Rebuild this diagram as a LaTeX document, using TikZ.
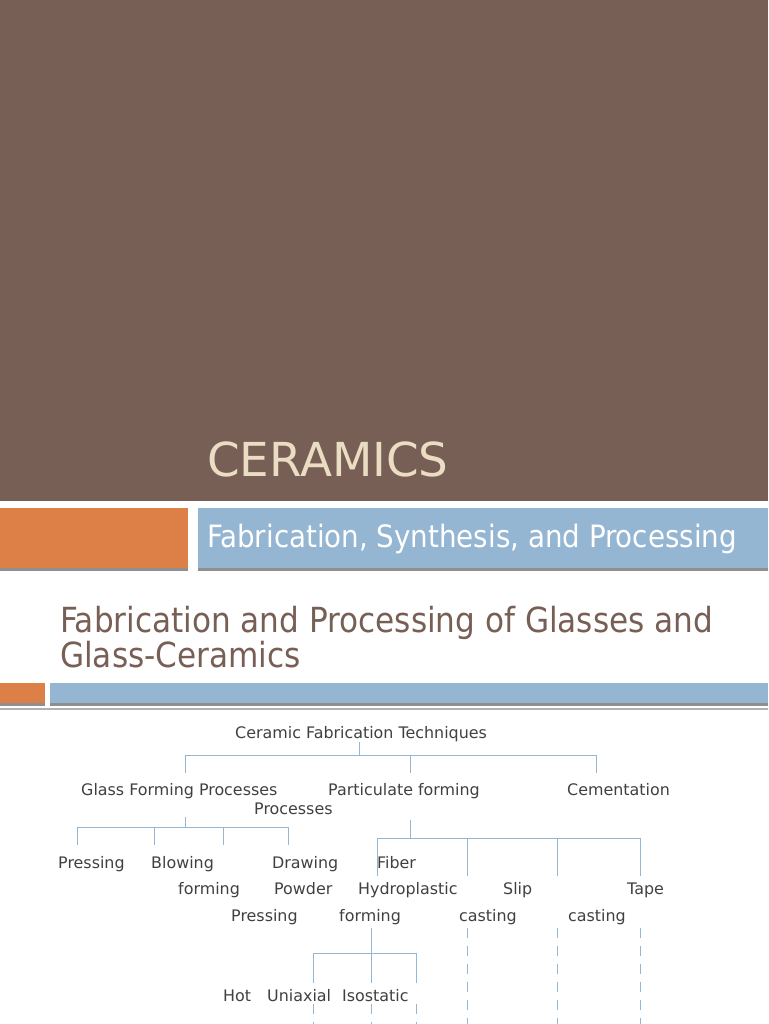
\documentclass[tikz,border=0pt]{standalone}
\usepackage{fontspec}
\setmainfont{DejaVu Sans}
\newfontfamily\condfont{DejaVu Sans Condensed}
\definecolor{slidebrown}{HTML}{775F55}
\definecolor{slideorange}{HTML}{DD8047}
\definecolor{slideblue}{HTML}{94B6D2}
\definecolor{slidecream}{HTML}{EBDDC3}
\definecolor{slideshadow}{HTML}{8F8F8F}
\definecolor{treetext}{HTML}{404040}
\tikzset{
  lbl/.style={anchor=base west, inner sep=0pt, text=treetext,
    font=\fontsize{15.9}{18}\selectfont},
  link/.style={draw=slideblue, line width=0.9pt},
  dlink/.style={link, dash pattern=on 10pt off 8pt},
}
\begin{document}
\begin{tikzpicture}[x=1pt, y=-1pt] %{,}
\useasboundingbox (0,0) rectangle (768,1024);
\fill[slidebrown] (0,0) rectangle (768,501);
\fill[slideshadow] (0,508) rectangle (188,571);
\fill[slideorange] (0,508) rectangle (188,568);
\fill[slideshadow] (198,508) rectangle (768,571);
\fill[slideblue] (198,508) rectangle (768,568);
\fill[slideshadow] (0,683) rectangle (45,706);
\fill[slideorange] (0,683) rectangle (45,703);
\fill[slideshadow] (50,683) rectangle (768,706);
\fill[slideblue] (50,683) rectangle (768,703);
\fill[slideshadow!70] (0,707.5) rectangle (768,709.5);
\node[anchor=base west, inner sep=0pt, text=slidecream, font=\fontsize{46.8}{50}\selectfont] (T_0) at (207,476) {CERAMICS};
\node[anchor=base west, inner sep=0pt, text=white, font=\condfont\fontsize{30.8}{32}\selectfont] (T_1) at (207,547) {Fabrication, Synthesis, and Processing};
\node[anchor=base west, inner sep=0pt, align=left, text=slidebrown, font=\condfont\fontsize{34.6}{35}\selectfont] (T_2) at (60,667) {Fabrication and Processing of Glasses and\\Glass-Ceramics};
\node[lbl] (P_0_0) at (235,738) {Ceramic Fabrication Techniques};
\node[lbl] (P_1_0) at (81,795) {Glass Forming Processes};
\node[lbl] (P_1_1) at (328,795) {Particulate forming};
\node[lbl] (P_1_2) at (254,814) {Processes};
\node[lbl] (P_1_3) at (567,795) {Cementation};
\coordinate (B_0) at (359,755);
\coordinate (B_0_0) at (185,755);
\coordinate (B_0_1) at (410,755);
\coordinate (B_0_2) at (596,755);
\draw[link] (P_0_0.south -| B_0) -- (B_0);
\draw[link] (B_0_0) -- (B_0_2);
\foreach \c in {0,1,2} \draw[link] (B_0_\c) -- ++(0,18);
\node[lbl] (P_2_0) at (58,868) {Pressing};
\node[lbl] (P_2_1) at (151,868) {Blowing};
\node[lbl] (P_2_2) at (272,868) {Drawing};
\node[lbl] (P_2_3) at (377,868) {Fiber};
\node[lbl] (P_3_0) at (178,894) {forming};
\node[lbl] (P_3_1) at (274,894) {Powder};
\node[lbl] (P_3_2) at (358,894) {Hydroplastic};
\node[lbl] (P_3_3) at (503,894) {Slip};
\node[lbl] (P_3_4) at (627,894) {Tape};
\node[lbl] (P_4_0) at (231,921) {Pressing};
\node[lbl] (P_4_1) at (339,921) {forming};
\node[lbl] (P_4_2) at (459,921) {casting};
\node[lbl] (P_4_3) at (568,921) {casting};
\coordinate (B_1) at (185,827);
\coordinate (B_1_0) at (77,827);
\coordinate (B_1_1) at (154,827);
\coordinate (B_1_2) at (223,827);
\coordinate (B_1_3) at (288,827);
\draw[link] (B_1) -- ++(0,-10);
\draw[link] (B_1_0) -- (B_1_3);
\foreach \c in {0,...,3} \draw[link] (B_1_\c) -- ++(0,18);
\coordinate (B_2) at (410,838);
\coordinate (B_2_0) at (377,838);
\coordinate (B_2_1) at (467,838);
\coordinate (B_2_2) at (557,838);
\coordinate (B_2_3) at (640,838);
\draw[link] (B_2) -- ++(0,-18);
\draw[link] (B_2_0) -- (B_2_3);
\foreach \c in {0,...,3} \draw[link] (B_2_\c) -- ++(0,38);
\foreach \c in {1,2,3} \draw[dlink] (B_2_\c |- P_4_1.south) ++(0,3) -- (B_2_\c |- 0,1024);
\node[lbl] (P_5_0) at (223,1001) {Hot};
\node[lbl] (P_5_1) at (267,1001) {Uniaxial};
\node[lbl] (P_5_2) at (342,1001) {Isostatic};
\coordinate (B_3) at (371,953);
\coordinate (B_3_0) at (313,953);
\coordinate (B_3_1) at (371,953);
\coordinate (B_3_2) at (416,953);
\draw[link] (P_4_1.south -| B_3) ++(0,3) -- (B_3);
\draw[link] (B_3_0) -- (B_3_2);
\foreach \c in {0,1,2} \draw[link] (B_3_\c) -- ++(0,30);
\foreach \c in {0,1,2} \draw[dlink] (B_3_\c |- P_5_2.south) ++(0,3) -- (B_3_\c |- 0,1024);
\end{tikzpicture}
\end{document}
